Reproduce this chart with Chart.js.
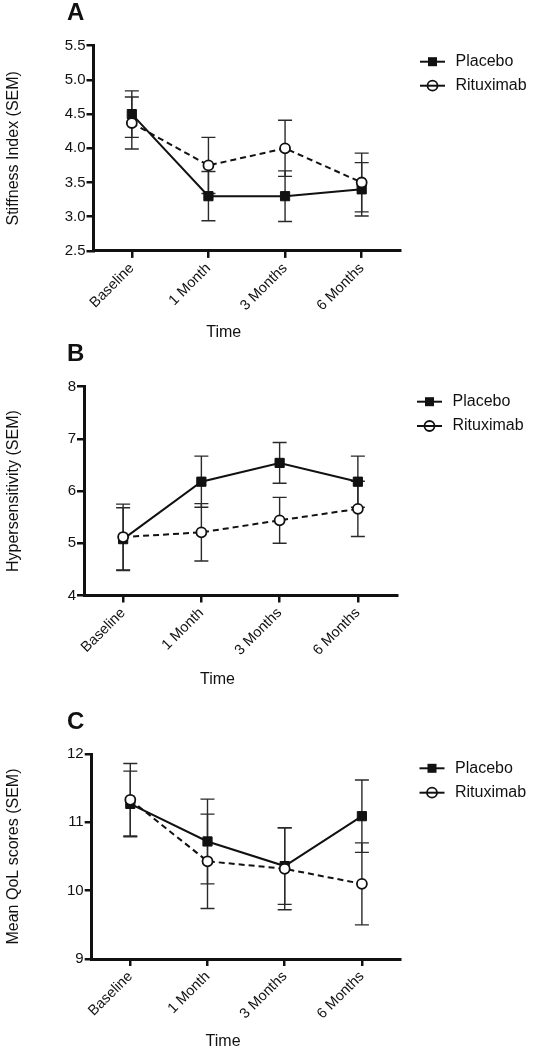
<!DOCTYPE html>
<html>
<head>
<meta charset="utf-8">
<script src="https://cdn.jsdelivr.net/npm/chart.js@4/dist/chart.umd.min.js"></script>
<style>
html,body{margin:0;padding:0;background:#fff;}
#wrap{position:relative;width:537px;height:1050px;overflow:hidden;}
.panel{position:absolute;left:0;width:537px;height:350px;}
.letter{position:absolute;left:67px;font:bold 24px/24px "Liberation Sans", Arial, Helvetica, sans-serif;color:#111;z-index:2;}
</style>
</head>
<body>
<div id="wrap">
  <div class="panel" style="top:0px"><canvas id="cA" width="537" height="350"></canvas></div>
  <div class="panel" style="top:350px"><canvas id="cB" width="537" height="350"></canvas></div>
  <div class="panel" style="top:700px"><canvas id="cC" width="537" height="350"></canvas></div>
  <div class="letter" id="lA" style="top:0px"></div>
  <div class="letter" id="lB" style="top:341px"></div>
  <div class="letter" id="lC" style="top:708.5px"></div>
</div>
<script>
// ---------- DATA ----------
const categories = ['Baseline', '1 Month', '3 Months', '6 Months'];
const seriesNames = ['Placebo', 'Rituximab'];
const panelLetters = ['A', 'B', 'C'];
const yTitles = ['Stiffness Index (SEM)', 'Hypersensitivity (SEM)', 'Mean QoL scores (SEM)'];
const xTitle = 'Time';

// Panel A: stiffness index
const stiffnessPlacebo = [4.50, 3.30, 3.30, 3.40];
const stiffnessPlaceboSem = [0.34, 0.36, 0.37, 0.39];
const stiffnessRituximab = [4.37, 3.75, 4.00, 3.50];
const stiffnessRituximabSem = [0.38, 0.41, 0.41, 0.43];
const stiffnessTicks = [2.5, 3.0, 3.5, 4.0, 4.5, 5.0, 5.5];

// Panel B: hypersensitivity
const hyperPlacebo = [5.08, 6.18, 6.54, 6.18];
const hyperPlaceboSem = [0.60, 0.49, 0.39, 0.49];
const hyperRituximab = [5.12, 5.21, 5.44, 5.66];
const hyperRituximabSem = [0.63, 0.55, 0.44, 0.53];
const hyperTicks = [4, 5, 6, 7, 8];

// Panel C: mean QoL scores
const qolPlacebo = [11.27, 10.72, 10.36, 11.09];
const qolPlaceboSem = [0.48, 0.62, 0.56, 0.53];
const qolRituximab = [11.33, 10.43, 10.32, 10.10];
const qolRituximabSem = [0.53, 0.69, 0.60, 0.60];
const qolTicks = [9, 10, 11, 12];

// ---------- STYLE / LAYOUT ----------
const FONT = '"Liberation Sans", Arial, Helvetica, sans-serif';
const INK = '#111';
Chart.defaults.font.family = FONT;

document.getElementById('lA').textContent = panelLetters[0];
document.getElementById('lB').textContent = panelLetters[1];
document.getElementById('lC').textContent = panelLetters[2];

const errorBarPlugin = {
  id: 'errorBars',
  beforeDatasetsDraw(chart) {
    const ctx = chart.ctx;
    const yScale = chart.scales.y;
    chart.data.datasets.forEach((ds, i) => {
      const meta = chart.getDatasetMeta(i);
      ctx.save();
      ctx.strokeStyle = '#2a2a2a';
      ctx.lineWidth = 1.4;
      meta.data.forEach((pt, j) => {
        const v = ds.data[j], e = ds.sem[j];
        const yt = yScale.getPixelForValue(v + e);
        const yb = yScale.getPixelForValue(v - e);
        const x = pt.x;
        ctx.beginPath();
        ctx.moveTo(x, yt); ctx.lineTo(x, yb);
        ctx.moveTo(x - 7, yt); ctx.lineTo(x + 7, yt);
        ctx.moveTo(x - 7, yb); ctx.lineTo(x + 7, yb);
        ctx.stroke();
      });
      ctx.restore();
    });
  }
};

const decorPlugin = {
  id: 'decor',
  afterDraw(chart, args, o) {
    const ctx = chart.ctx;
    const ca = chart.chartArea;
    ctx.save();
    ctx.fillStyle = INK;
    ctx.textBaseline = 'middle';
    // x axis title
    ctx.font = '16px ' + FONT;
    ctx.textAlign = 'center';
    ctx.fillText(o.xTitle, (ca.left + ca.right) / 2 - 23, o.timeY);
    // legend
    ctx.textAlign = 'left';
    chart.data.datasets.forEach((ds, i) => {
      const y = o.legendY[i];
      const x0 = o.legendX, x1 = x0 + 25, cx = (x0 + x1) / 2;
      ctx.strokeStyle = INK;
      ctx.lineWidth = 2;
      ctx.beginPath(); ctx.moveTo(x0, y); ctx.lineTo(x1, y); ctx.stroke();
      if (ds.pointStyle === 'rect') {
        ctx.fillStyle = INK;
        ctx.fillRect(cx - 4.5, y - 4.5, 9, 9);
      } else {
        ctx.lineWidth = 1.8;
        ctx.beginPath(); ctx.arc(cx, y, 5, 0, Math.PI * 2); ctx.stroke();
      }
      ctx.fillStyle = INK;
      ctx.font = '16px ' + FONT;
      ctx.fillText(ds.label, x0 + 35.5, y);
    });
    ctx.restore();
  }
};

function buildChart(id, p) {
  const ticks = p.ticks;
  return new Chart(document.getElementById(id), {
    type: 'line',
    data: {
      labels: categories,
      datasets: [
        {
          label: seriesNames[0], data: p.placebo, sem: p.placeboSem,
          borderColor: INK, backgroundColor: INK, borderWidth: 2,
          pointStyle: 'rect', pointRadius: 6.5, pointBorderWidth: 1,
          pointBackgroundColor: INK, pointBorderColor: INK,
          tension: 0, fill: false, order: 1
        },
        {
          label: seriesNames[1], data: p.ritux, sem: p.rituxSem,
          borderColor: INK, backgroundColor: '#fff', borderWidth: 2, borderDash: [6, 4],
          pointStyle: 'circle', pointRadius: 5, pointBorderWidth: 1.8,
          pointBackgroundColor: '#fff', pointBorderColor: INK,
          tension: 0, fill: false, order: 0
        }
      ]
    },
    options: {
      responsive: false,
      animation: false,
      events: [],
      layout: { padding: { top: p.area.top, right: 537 - p.area.right, bottom: 0, left: 0 } },
      plugins: {
        legend: { display: false },
        tooltip: { enabled: false },
        decor: { xTitle: xTitle, timeY: p.timeY, legendX: p.legendX, legendY: p.legendY }
      },
      scales: {
        x: {
          type: 'category', offset: true,
          grid: { display: true, drawOnChartArea: false, drawTicks: true, tickLength: 7, color: INK, lineWidth: 2.5 },
          border: { display: true, color: INK, width: 3 },
          ticks: { color: INK, font: { size: 14.5 }, maxRotation: 45, minRotation: 45, padding: 2, autoSkip: false },
          afterFit(s) { s.height = 350 - p.area.bottom; }
        },
        y: {
          min: ticks[0], max: ticks[ticks.length - 1],
          afterBuildTicks(s) { s.ticks = ticks.map(v => ({ value: v })); },
          ticks: { color: INK, font: { size: 15 }, padding: 1, callback: p.fmt },
          grid: { display: true, drawOnChartArea: false, drawTicks: true, tickLength: 7, color: INK, lineWidth: 2.5 },
          border: { display: true, color: INK, width: 3 },
          title: { display: true, text: p.yTitle, color: INK, font: { size: 16 }, padding: { top: 4, bottom: 0 } },
          afterFit(s) { s.width = p.area.left; }
        }
      }
    },
    plugins: [errorBarPlugin, decorPlugin]
  });
}

buildChart('cA', {
  placebo: stiffnessPlacebo, placeboSem: stiffnessPlaceboSem,
  ritux: stiffnessRituximab, rituxSem: stiffnessRituximabSem,
  ticks: stiffnessTicks, fmt: v => Number(v).toFixed(1),
  yTitle: yTitles[0],
  area: { left: 93.5, top: 45.7, right: 400, bottom: 250.9 },
  timeY: 333, legendX: 420, legendY: [61.7, 85.7]
});
buildChart('cB', {
  placebo: hyperPlacebo, placeboSem: hyperPlaceboSem,
  ritux: hyperRituximab, rituxSem: hyperRituximabSem,
  ticks: hyperTicks, fmt: v => String(v),
  yTitle: yTitles[1],
  area: { left: 84, top: 36.7, right: 397, bottom: 245.5 },
  timeY: 330, legendX: 417, legendY: [51.7, 76]
});
buildChart('cC', {
  placebo: qolPlacebo, placeboSem: qolPlaceboSem,
  ritux: qolRituximab, rituxSem: qolRituximabSem,
  ticks: qolTicks, fmt: v => String(v),
  yTitle: yTitles[2],
  area: { left: 91.7, top: 54, right: 400.5, bottom: 259 },
  timeY: 341.7, legendX: 419.5, legendY: [68.3, 92.7]
});
</script>
</body>
</html>
